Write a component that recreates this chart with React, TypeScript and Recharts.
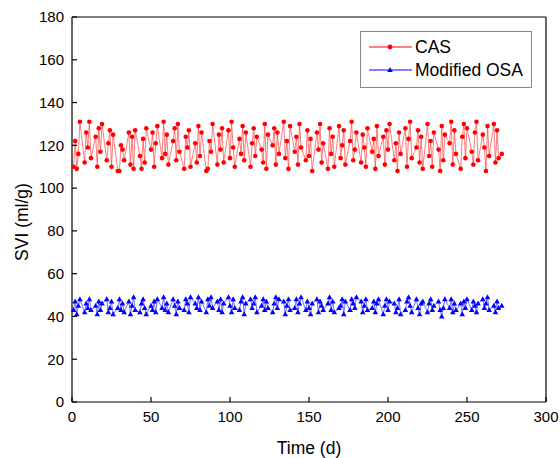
import { LineChart, Line, XAxis, YAxis, ReferenceLine } from "recharts";

// sampling days (weekdays), days since start-up
const days = [
  1, 2, 3, 4, 5, 8, 9, 10, 11, 12, 15, 16, 17, 18, 19, 22, 23, 24, 25, 26,
  29, 30, 31, 32, 33, 36, 37, 38, 39, 40, 43, 44, 45, 46, 47, 50, 51, 52, 53, 54,
  57, 58, 59, 60, 61, 64, 65, 66, 67, 68, 71, 72, 73, 74, 75, 78, 79, 80, 81, 82,
  85, 86, 87, 88, 89, 92, 93, 94, 95, 96, 99, 100, 101, 102, 103, 106, 107, 108, 109, 110,
  113, 114, 115, 116, 117, 120, 121, 122, 123, 124, 127, 128, 129, 130, 131, 134, 135, 136, 137, 138,
  141, 142, 143, 144, 145, 148, 149, 150, 151, 152, 155, 156, 157, 158, 159, 162, 163, 164, 165, 166,
  169, 170, 171, 172, 173, 176, 177, 178, 179, 180, 183, 184, 185, 186, 187, 190, 191, 192, 193, 194,
  197, 198, 199, 200, 201, 204, 205, 206, 207, 208, 211, 212, 213, 214, 215, 218, 219, 220, 221, 222,
  225, 226, 227, 228, 229, 232, 233, 234, 235, 236, 239, 240, 241, 242, 243, 246, 247, 248, 249, 250,
  253, 254, 255, 256, 257, 260, 261, 262, 263, 264, 267, 268, 269, 270, 272,
];

const cas = [
  110, 122, 109, 116, 131, 112, 126, 119, 131, 114, 124, 110, 128, 117, 130, 113, 121, 127, 110, 125,
  108, 108, 120, 118, 113, 126, 111, 124, 109, 127, 115, 109, 123, 112, 128, 118, 126, 110, 121, 129,
  114, 131, 116, 125, 111, 122, 128, 113, 130, 117, 109, 124, 119, 127, 110, 121, 112, 129, 115, 126,
  108, 109, 122, 117, 130, 111, 125, 118, 128, 112, 127, 114, 131, 119, 110, 123, 116, 129, 113, 126,
  110, 121, 128, 115, 124, 118, 112, 130, 109, 125, 120, 128, 111, 126, 116, 131, 114, 122, 109, 129,
  117, 124, 111, 130, 119, 113, 127, 115, 123, 108, 126, 118, 130, 112, 121, 109, 128, 116, 124, 110,
  129, 114, 120, 127, 111, 122, 131, 113, 118, 126, 112, 125, 119, 110, 128, 117, 123, 109, 129, 115,
  124, 111, 127, 118, 130, 113, 121, 108, 126, 116, 128, 110, 123, 131, 114, 119, 127, 112, 124, 109,
  130, 115, 122, 110, 126, 118, 108, 129, 113, 125, 121, 131, 111, 127, 116, 109, 124, 130, 114, 128,
  117, 111, 126, 131, 113, 125, 119, 108, 129, 115, 130, 112, 127, 114, 116,
];

const osa = [
  43, 47, 41, 45, 48, 42, 46, 44, 48, 43, 45, 41, 47, 43, 46, 48, 42, 44, 47, 41,
  44, 48, 43, 46, 42, 47, 41, 45, 49, 43, 42, 46, 48, 44, 41, 45, 43, 47, 42, 48,
  44, 49, 43, 46, 42, 48, 45, 41, 47, 44, 43, 48, 46, 42, 49, 46, 44, 49, 43, 47,
  42, 48, 45, 49, 44, 47, 43, 48, 42, 46, 49, 45, 42, 48, 44, 43, 47, 49, 41, 46,
  48, 44, 46, 49, 42, 45, 48, 43, 47, 44, 42, 46, 49, 44, 48, 47, 41, 45, 48, 43,
  44, 48, 42, 46, 49, 43, 47, 44, 41, 46, 48, 42, 47, 45, 43, 46, 49, 43, 47, 42,
  44, 45, 48, 41, 47, 43, 48, 46, 44, 49, 47, 42, 45, 48, 43, 44, 47, 42, 46, 48,
  41, 45, 48, 43, 47, 46, 42, 44, 48, 41, 43, 47, 49, 45, 42, 48, 44, 41, 46, 47,
  42, 46, 48, 43, 45, 47, 43, 40, 44, 48, 44, 48, 42, 46, 43, 46, 41, 47, 44, 48,
  43, 47, 45, 42, 46, 48, 44, 46, 49, 43, 45, 42, 47, 44, 45,
];

const xTicks = [0, 50, 100, 150, 200, 250, 300];
const xMinor = [25, 75, 125, 175, 225, 275];
const yTicks = [0, 20, 40, 60, 80, 100, 120, 140, 160, 180];
const yMinor = [10, 30, 50, 70, 90, 110, 130, 150, 170];

const data = days.map((d, i) => ({ day: d, cas: cas[i], osa: osa[i] }));

const font = "'Liberation Sans', Arial, sans-serif";

const Triangle = (props: any) => {
  const { cx, cy } = props;
  if (cx == null || cy == null) return null;
  return (
    <polygon
      points={`${cx},${cy - 3} ${cx - 2.8},${cy + 2} ${cx + 2.8},${cy + 2}`}
      fill="#0000ff"
    />
  );
};

const LegendBox = () => (
  <svg width={172} height={57} style={{ display: "block" }}>
    <rect x={0.5} y={0.5} width={171} height={56} fill="#fff" stroke="#888" />
    <line x1={9} y1={16} x2={52} y2={16} stroke="#ff0000" strokeWidth={1} />
    <circle cx={30} cy={16} r={2.4} fill="#ff0000" />
    <text x={55} y={22} fontSize={17.5} fontFamily={font} fill="#000">
      CAS
    </text>
    <line x1={9} y1={39} x2={52} y2={39} stroke="#0000ff" strokeWidth={1} />
    <polygon points="30,36 27.2,41 32.8,41" fill="#0000ff" />
    <text x={55} y={45} fontSize={17.5} fontFamily={font} fill="#000">
      Modified OSA
    </text>
  </svg>
);

export default function App() {
  return (
    <div style={{ position: "absolute", left: 0, top: 0, background: "#fff" }}>
      <LineChart
        width={560}
        height={458}
        data={data}
        margin={{ top: 17, right: 14, bottom: 0, left: 0 }}
      >
        <XAxis
          dataKey="day"
          type="number"
          domain={[0, 300]}
          ticks={xTicks}
          interval={0}
          height={56}
          tickSize={-5}
          tickMargin={14}
          axisLine={{ stroke: "#000", strokeWidth: 1.2 }}
          tickLine={{ stroke: "#000", strokeWidth: 1.2 }}
          tick={{ fill: "#000", fontSize: 15, fontFamily: font }}
          label={{
            content: () => (
              <text
                x={309}
                y={454}
                textAnchor="middle"
                fontSize={17.5}
                fontFamily={font}
                fill="#000"
              >
                Time (d)
              </text>
            ),
          }}
        />
        <XAxis
          xAxisId="minor"
          dataKey="day"
          type="number"
          domain={[0, 300]}
          ticks={xMinor}
          interval={0}
          height={0}
          tickSize={-3}
          axisLine={false}
          tickLine={{ stroke: "#000", strokeWidth: 1.2 }}
          tick={false}
        />
        <YAxis
          type="number"
          domain={[0, 180]}
          ticks={yTicks}
          interval={0}
          width={72}
          tickSize={-5}
          tickMargin={13}
          axisLine={{ stroke: "#000", strokeWidth: 1.2 }}
          tickLine={{ stroke: "#000", strokeWidth: 1.2 }}
          tick={{ fill: "#000", fontSize: 15, fontFamily: font }}
          label={{
            content: () => (
              <text
                x={23}
                y={222}
                transform="rotate(-90 23 222)"
                textAnchor="middle"
                dominantBaseline="middle"
                fontSize={17.5}
                fontFamily={font}
                fill="#000"
              >
                SVI (ml/g)
              </text>
            ),
          }}
        />
        <YAxis
          yAxisId="minor"
          type="number"
          domain={[0, 180]}
          ticks={yMinor}
          interval={0}
          width={0}
          tickSize={-3}
          axisLine={false}
          tickLine={{ stroke: "#000", strokeWidth: 1.2 }}
          tick={false}
        />
        <ReferenceLine y={180} stroke="#000" strokeWidth={1.2} />
        <ReferenceLine x={300} stroke="#000" strokeWidth={1.2} />
        <Line
          dataKey="cas"
          name="CAS"
          type="linear"
          stroke="#ff4444"
          strokeWidth={0.7}
          dot={{ r: 2.3, fill: "#ff0000", stroke: "none" }}
          isAnimationActive={false}
        />
        <Line
          dataKey="osa"
          name="Modified OSA"
          type="linear"
          stroke="#3333ff"
          strokeWidth={0.7}
          dot={<Triangle />}
          isAnimationActive={false}
        />
      </LineChart>
      <div style={{ position: "absolute", left: 360, top: 31 }}>
        <LegendBox />
      </div>
    </div>
  );
}
